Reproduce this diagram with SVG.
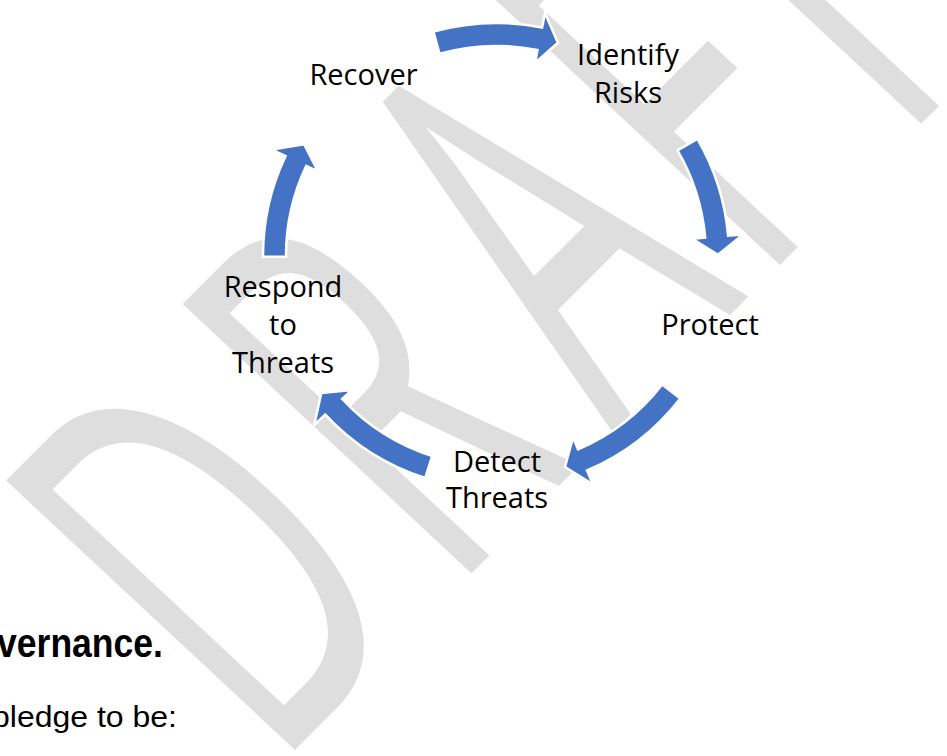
<svg xmlns="http://www.w3.org/2000/svg" width="947" height="756" viewBox="0 0 947 756">
<style>
.wm{font-family:"Open Sans","Noto Sans",sans-serif;font-size:553px;fill:#dedede}
.lbl{font-family:"Open Sans","Noto Sans",sans-serif;font-size:29px;fill:#000;text-anchor:middle}
.arr{fill:#4472c4;stroke:#ffffff;stroke-width:2.5;stroke-linejoin:miter}
.page{font-family:"Liberation Sans",Arial,sans-serif;fill:#000}
</style>
<rect width="947" height="756" fill="#ffffff"/>
<g id="watermark">
<text class="wm" transform="translate(295,750) rotate(-45) skewX(2) scale(0.55,1)" x="-54 400 817 1193 1481" y="0">DRAFT</text>
</g>
<g id="connectors">
<path class="arr" d="M433.4,31.6 A233,233 0 0 1 542.1,27.6 L545.0,12.9 L557.9,42.8 L535.0,62.9 L537.5,50.1 A210,210 0 0 0 439.5,53.7 Z"/>
<path class="arr" d="M697.4,138.8 A233,233 0 0 1 728.1,235.7 L743.1,234.4 L718.0,254.8 L692.3,238.8 L705.2,237.7 A210,210 0 0 0 677.5,150.4 Z"/>
<path class="arr" d="M680.3,398.5 A233,233 0 0 1 587.0,470.5 L592.9,484.3 L565.0,467.0 L573.0,437.3 L578.0,449.3 A210,210 0 0 0 662.2,384.4 Z"/>
<path class="arr" d="M425.2,478.0 A233,233 0 0 1 325.3,414.6 L314.3,424.8 L321.3,393.0 L351.7,390.1 L342.2,398.9 A210,210 0 0 0 432.2,456.1 Z"/>
<path class="arr" d="M263.0,256.8 A233,233 0 0 1 285.5,156.1 L272.0,149.6 L304.1,144.3 L318.0,171.5 L306.3,165.9 A210,210 0 0 0 286.0,256.7 Z"/>
</g>
<g id="node-recover"><text class="lbl" x="363.5" y="85">Recover</text></g>
<g id="node-identify"><text class="lbl" x="628" y="65">Identify<tspan x="628" y="103">Risks</tspan></text></g>
<g id="node-protect"><text class="lbl" x="710" y="335">Protect</text></g>
<g id="node-detect"><text class="lbl" x="497" y="472">Detect<tspan x="497" y="508">Threats</tspan></text></g>
<g id="node-respond"><text class="lbl" x="283" y="297">Respond<tspan x="283" y="335">to</tspan><tspan x="283" y="373">Threats</tspan></text></g>
<g id="page-text">
<text class="page" x="-3" y="657" font-size="40" font-weight="bold" textLength="166" lengthAdjust="spacingAndGlyphs">vernance.</text>
<text class="page" x="-8" y="727" font-size="29" textLength="185" lengthAdjust="spacingAndGlyphs">pledge to be:</text>
</g>
</svg>
